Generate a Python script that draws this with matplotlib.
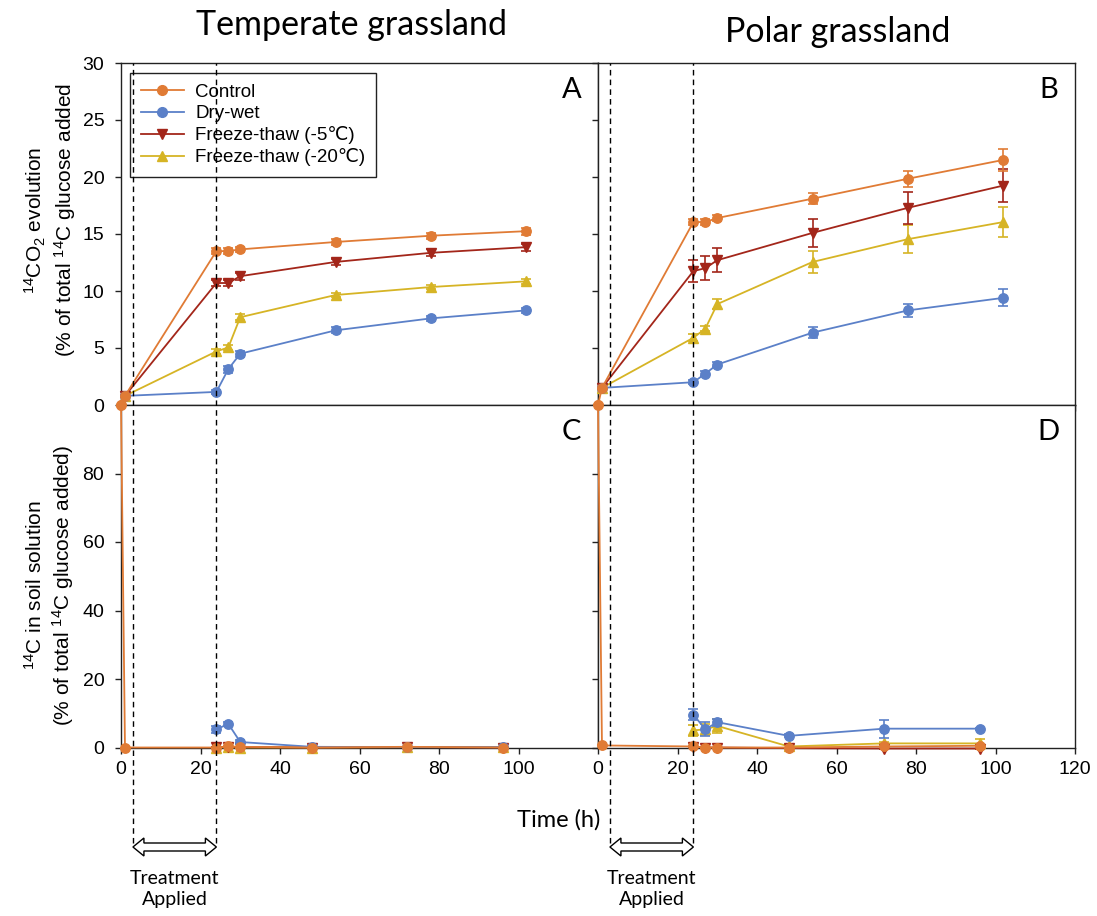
import numpy as np
import matplotlib
matplotlib.use("Agg")
import matplotlib.pyplot as plt
from matplotlib.lines import Line2D
from matplotlib.patches import Polygon

plt.rcParams['font.family'] = ['Liberation Sans', 'DejaVu Sans']
plt.rcParams['mathtext.fontset'] = 'custom'
plt.rcParams['mathtext.rm'] = 'Liberation Sans'
plt.rcParams['mathtext.default'] = 'regular'

# --- data ---
names = ["Control", "Dry-wet", "Freeze-thaw (-5\u2103)", "Freeze-thaw (-20\u2103)"]
colors = ["#E07B35", "#5B80C8", "#A3261A", "#D6B425"]
markers = ["o", "o", "v", "^"]

# 14CO2 evolution (top panels)
t_ctrl_top = [0, 1, 24, 27, 30, 54, 78, 102]
t_trt_top = [1, 24, 27, 30, 54, 78, 102]

temp_ctrl = [0, 0.8, 13.5, 13.5, 13.65, 14.3, 14.85, 15.25]
temp_ctrl_err = [0, 0.1, 0.25, 0.25, 0.25, 0.3, 0.25, 0.3]
temp_dw = [0.8, 1.15, 3.15, 4.5, 6.55, 7.6, 8.3]
temp_dw_err = [0.1, 0.2, 0.3, 0.25, 0.25, 0.2, 0.25]
temp_f5 = [0.8, 10.7, 10.7, 11.3, 12.55, 13.35, 13.85]
temp_f5_err = [0.1, 0.25, 0.25, 0.3, 0.25, 0.3, 0.3]
temp_f20 = [0.8, 4.7, 5.05, 7.7, 9.65, 10.35, 10.85]
temp_f20_err = [0.1, 0.2, 0.2, 0.25, 0.2, 0.2, 0.2]

polar_ctrl = [0, 1.5, 16.05, 16.05, 16.4, 18.1, 19.85, 21.5]
polar_ctrl_err = [0, 0.1, 0.25, 0.25, 0.3, 0.5, 0.7, 1.0]
polar_dw = [1.5, 2.0, 2.75, 3.55, 6.35, 8.3, 9.4]
polar_dw_err = [0.1, 0.15, 0.2, 0.25, 0.5, 0.6, 0.75]
polar_f5 = [1.5, 11.75, 12.0, 12.7, 15.1, 17.3, 19.25]
polar_f5_err = [0.1, 0.95, 1.05, 1.05, 1.25, 1.4, 1.45]
polar_f20 = [1.5, 5.9, 6.7, 8.85, 12.55, 14.55, 16.05]
polar_f20_err = [0.1, 0.3, 0.25, 0.45, 0.95, 1.2, 1.3]

# 14C in soil solution (bottom panels)
t_ctrl_bot = [0, 1, 24, 27, 30, 48, 72, 96]
t_trt_bot = [24, 27, 30, 48, 72, 96]

temp_sol_ctrl = [100, 0, 0, 0.3, 0.2, 0, 0.2, 0]
temp_sol_ctrl_err = [0, 0, 0, 0, 0, 0, 0, 0]
temp_sol_dw = [5.3, 6.9, 1.6, 0.2, 0.1, 0.1]
temp_sol_dw_err = [1.0, 0.6, 0.5, 0.1, 0.1, 0.1]
temp_sol_f5 = [0.1, 0.2, 0.1, 0, 0.1, 0]
temp_sol_f5_err = [0, 0, 0, 0, 0, 0]
temp_sol_f20 = [0, 0.1, 0, 0, 0.1, 0.1]
temp_sol_f20_err = [0, 0, 0, 0, 0, 0]

polar_sol_ctrl = [100, 0.6, 0.3, 0, 0, 0, 0.3, 0.5]
polar_sol_ctrl_err = [0, 0, 0, 0, 0, 0, 0, 0]
polar_sol_dw = [9.6, 5.3, 7.4, 3.4, 5.5, 5.5]
polar_sol_dw_err = [1.5, 2.0, 1.0, 0.4, 2.6, 0.3]
polar_sol_f5 = [0.2, 0, 0, -0.2, -0.3, -0.3]
polar_sol_f5_err = [0, 0, 0, 0, 0, 0]
polar_sol_f20 = [5.0, 5.3, 6.3, 0.3, 1.2, 1.2]
polar_sol_f20_err = [1.5, 1.7, 2.0, 0.3, 0.5, 1.3]

treat_start, treat_end = 3, 24

W, H = 1097, 916
fig = plt.figure(figsize=(W / 100, H / 100), dpi=100)

axA = fig.add_axes([121 / W, 1 - 405 / H, 477 / W, 342 / H])
axB = fig.add_axes([598 / W, 1 - 405 / H, 477 / W, 342 / H])
axC = fig.add_axes([121 / W, 1 - 747.5 / H, 477 / W, 342.5 / H])
axD = fig.add_axes([598 / W, 1 - 747.5 / H, 477 / W, 342.5 / H])


def draw(ax, tc, tt, series):
    for i, (v, e) in enumerate(series):
        t = tc if i == 0 else tt
        ax.errorbar(t, v, yerr=e, color=colors[i], marker=markers[i], ms=6.8,
                    lw=1.3, elinewidth=1.2, capsize=3.5, capthick=1.2,
                    clip_on=False, zorder=3 + (3 - i) * 0.1)


draw(axA, t_ctrl_top, t_trt_top, [(temp_ctrl, temp_ctrl_err), (temp_dw, temp_dw_err),
                                 (temp_f5, temp_f5_err), (temp_f20, temp_f20_err)])
draw(axB, t_ctrl_top, t_trt_top, [(polar_ctrl, polar_ctrl_err), (polar_dw, polar_dw_err),
                                 (polar_f5, polar_f5_err), (polar_f20, polar_f20_err)])
draw(axC, t_ctrl_bot, t_trt_bot, [(temp_sol_ctrl, temp_sol_ctrl_err), (temp_sol_dw, temp_sol_dw_err),
                                 (temp_sol_f5, temp_sol_f5_err), (temp_sol_f20, temp_sol_f20_err)])
draw(axD, t_ctrl_bot, t_trt_bot, [(polar_sol_ctrl, polar_sol_ctrl_err), (polar_sol_dw, polar_sol_dw_err),
                                 (polar_sol_f5, polar_sol_f5_err), (polar_sol_f20, polar_sol_f20_err)])

for ax in (axA, axB, axC, axD):
    ax.set_xlim(0, 120)
    for s in ax.spines.values():
        s.set_linewidth(1.0)
        s.set_color("#222222")
    ax.tick_params(direction="out", length=4, width=1.0, labelsize=14, pad=6, color="#222222")

for ax in (axA, axB):
    ax.set_ylim(0, 30)
    ax.set_yticks(np.arange(0, 31, 5))
    ax.set_xticks(np.arange(0, 121, 20))
    ax.tick_params(labelbottom=False)
axA.tick_params(axis="x", length=0)

for ax in (axC, axD):
    ax.set_ylim(0, 100)
    ax.set_yticks([0, 20, 40, 60, 80])
axC.set_xticks(np.arange(0, 101, 20))
axD.set_xticks(np.arange(0, 121, 20))
axB.tick_params(labelleft=False)
axD.tick_params(labelleft=False)
axA.tick_params(axis="y", pad=8)
axC.tick_params(axis="y", pad=8)

for ax, letter in zip((axA, axB, axC, axD), "ABCD"):
    ax.text(0.945, 0.92, letter, transform=ax.transAxes, ha="center", va="center",
            fontsize=21, family="Lato")

handles = [Line2D([], [], color=c, marker=m, ms=7, lw=1.3) for c, m in zip(colors, markers)]
leg = axA.legend(handles, names, loc="upper left", bbox_to_anchor=(0.0, 0.997), fontsize=13.5,
                 frameon=True, fancybox=False, edgecolor="#222222", framealpha=1,
                 handlelength=2.3, borderpad=0.55, labelspacing=0.22, handletextpad=0.6)
leg.get_frame().set_linewidth(1.0)

# titles and axis labels
fig.text(352 / W, 1 - 25 / H, "Temperate grassland", ha="center", va="center",
         fontsize=24.5, family="Lato")
fig.text(838 / W, 1 - 32 / H, "Polar grassland", ha="center", va="center",
         fontsize=24.5, family="Lato")
fig.text(50 / W, 1 - 220 / H,
         "$^{14}$CO$_2$ evolution\n(% of total $^{14}$C glucose added",
         rotation=90, ha="center", va="center", fontsize=15, multialignment="center")
fig.text(50 / W, 1 - 585 / H,
         "$^{14}$C in soil solution\n(% of total $^{14}$C glucose added)",
         rotation=90, ha="center", va="center", fontsize=15, multialignment="center")
fig.text(559 / W, 1 - 820 / H, "Time (h)", ha="center", va="center",
         fontsize=17, family="Lato")

# treatment window: dashed lines, arrows, labels
inv = fig.transFigure.inverted()
y_top = 1 - 63 / H
y_bot = 1 - 843 / H
y_arrow = 1 - 847 / H
hl, hh, th = 11 / W, 9 / H, 4 / H  # arrow head length, head half-height, shaft half-height
for ax in (axA, axB):
    xs = [inv.transform(ax.transData.transform((t, 0)))[0] for t in (treat_start, treat_end)]
    for xf in xs:
        fig.add_artist(Line2D([xf, xf], [y_bot, y_top], transform=fig.transFigure,
                              color="black", lw=1.0, ls=(0, (4, 3)), zorder=5))
    x0, x1, yc = xs[0], xs[1], y_arrow
    pts = [(x0, yc), (x0 + hl, yc + hh), (x0 + hl, yc + th), (x1 - hl, yc + th),
           (x1 - hl, yc + hh), (x1, yc), (x1 - hl, yc - hh), (x1 - hl, yc - th),
           (x0 + hl, yc - th), (x0 + hl, yc - hh)]
    fig.add_artist(Polygon(pts, closed=True, transform=fig.transFigure,
                           fc="white", ec="black", lw=1.0, zorder=6))
    fig.text((x0 + x1) / 2, 1 - 889 / H, "Treatment\nApplied", ha="center", va="center",
             fontsize=14, family="Lato", linespacing=1.3)

fig.savefig("out.png", dpi=100)
